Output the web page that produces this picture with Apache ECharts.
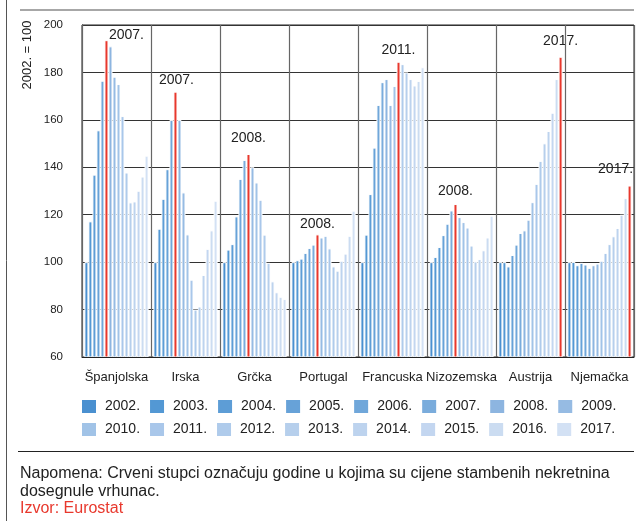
<!DOCTYPE html>
<html>
<head>
<meta charset="utf-8">
<script src="https://cdn.jsdelivr.net/npm/echarts@6/dist/echarts.min.js"></script>
<style>
  html, body { margin: 0; padding: 0; background: #fff; }
  #chart { width: 640px; height: 521px; }
</style>
</head>
<body>
<div id="chart"></div>
<script>
// kategorije i godine
const countries = ["Španjolska", "Irska", "Grčka", "Portugal", "Francuska", "Nizozemska", "Austrija", "Njemačka"];
const years = ["2002.", "2003.", "2004.", "2005.", "2006.", "2007.", "2008.", "2009.",
  "2010.", "2011.", "2012.", "2013.", "2014.", "2015.", "2016.", "2017."];

// indeks cijena stambenih nekretnina, 2002. = 100
const spain = [100, 117.2, 136.9, 155.6, 176.5, 193.6, 191, 178.2, 175.1, 161.6, 137.8, 125.2, 125.6, 130.1, 136.1, 144.9];
const ireland = [100, 114.1, 126.7, 139.2, 160, 171.9, 160, 129.4, 111.7, 92.6, 80, 81.3, 94.6, 105.6, 113.4, 125.9];
const greece = [100, 105.3, 107.6, 119.3, 135.1, 143.1, 145.6, 140, 133.6, 126.3, 111.6, 99.7, 91.9, 87.3, 85.4, 84.5];
const portugal = [100, 100.8, 101.5, 103.9, 106, 107.4, 111.7, 110.4, 111.1, 105.8, 98.2, 96.4, 100.6, 103.6, 111.1, 121.7];
const france = [100, 111.6, 128.7, 148.3, 166.3, 175.9, 177.2, 166.3, 174.3, 184.5, 183.5, 180, 177.2, 174.5, 176.4, 182.2];
const netherlands = [100, 102.2, 106.4, 111.4, 116.2, 121.8, 124.5, 119, 116.9, 114.6, 107, 100.3, 101.3, 105, 110.4, 119.6];
const austria = [100, 100, 98.2, 103, 107.4, 112.3, 113.4, 117.9, 125.3, 133, 142.7, 150.1, 155.3, 163, 177.2, 186.6];
const germany = [100, 100.1, 98.7, 99.7, 99, 97.6, 98.7, 99.4, 100.6, 103.9, 107.6, 110.9, 114.4, 120, 127, 132.3];

// godina vrhunca po zemlji
const peakYears = ["2007.", "2007.", "2008.", "2008.", "2011.", "2008.", "2017.", "2017."];

const values = [spain, ireland, greece, portugal, france, netherlands, austria, germany];

const colors = ["#4a90d0", "#5398d4", "#5d9dd6", "#67a2d8", "#70a7da", "#7aacdc", "#8db5e0", "#96bbe3",
  "#a1c3e7", "#a9c7ea", "#afcbeb", "#b6cfec", "#bdd3ee", "#c3d6f0", "#cbdcf1", "#d3e1f4"];
const peakColor = "#e8382d";
// pomak oznake iznad crvenog stupca
const labelOffsets = [[20, 7], [1, 1], [0, -4], [0, 2], [0, 0], [0, -1], [0, -4], [-14, -4]];

const FONT = '"Liberation Sans", Arial, sans-serif';

const chart = echarts.init(document.getElementById("chart"));

const series = years.map((year, j) => ({
  name: year,
  type: "bar",
  barGap: "0%",
  barCategoryGap: "7%",
  itemStyle: { color: colors[j], borderColor: "#fff", borderWidth: 1 },
  data: values.map((vals, i) => {
    const item = { value: vals[j] };
    if (peakYears[i] === year) {
      item.itemStyle = { color: peakColor };
      item.label = {
        show: true,
        position: "top",
        distance: 5,
        offset: labelOffsets[i],
        formatter: year,
        fontSize: 14,
        fontFamily: FONT,
        color: "#222",
      };
    }
    return item;
  }),
}));

const legendBase = {
  left: 80,
  width: 600,
  padding: 0,
  orient: "horizontal",
  icon: "rect",
  itemWidth: 16,
  itemHeight: 15,
  itemGap: 8,
  selectedMode: false,
  textStyle: { fontSize: 14, fontFamily: FONT, color: "#222", width: 42, padding: [0, 0, 0, 3] },
};

const option = {
  animation: false,
  grid: {
    left: 82,
    right: 6,
    top: 25,
    bottom: 164,
    show: true,
    borderColor: "#222",
    borderWidth: 1,
  },
  legend: [
    Object.assign({}, legendBase, { top: 398, data: years.slice(0, 8) }),
    Object.assign({}, legendBase, { top: 421, data: years.slice(8) }),
  ],
  xAxis: {
    type: "category",
    data: countries,
    z: 10,
    axisLine: { lineStyle: { color: "#222", width: 1 } },
    axisTick: { show: false },
    splitLine: { show: true, interval: 0, lineStyle: { color: "#666", width: 1.2 } },
    axisLabel: { interval: 0, margin: 14, fontSize: 13, fontFamily: FONT, color: "#222" },
  },
  yAxis: {
    type: "value",
    min: 60,
    max: 200,
    interval: 20,
    axisLine: { show: true, lineStyle: { color: "#222" } },
    axisTick: { show: false },
    splitLine: { lineStyle: { color: "#333", width: 1 } },
    axisLabel: { margin: 19, fontSize: 11.5, fontFamily: FONT, color: "#222" },
  },
  graphic: [
    { type: "line", shape: { x1: 20, y1: 10, x2: 634, y2: 10 }, style: { stroke: "#8a8a8a", lineWidth: 1.5 } },
    { type: "line", shape: { x1: 6.5, y1: 0, x2: 6.5, y2: 521 }, style: { stroke: "#555", lineWidth: 1 } },
    { type: "line", shape: { x1: 18, y1: 451.5, x2: 634, y2: 451.5 }, style: { stroke: "#222", lineWidth: 1 } },
    {
      type: "text", x: 27, y: 55, rotation: Math.PI / 2,
      style: { text: "2002. = 100", fontSize: 13, fontFamily: FONT, fill: "#222", align: "center", verticalAlign: "middle" },
    },
    {
      type: "text", left: 20, top: 466,
      style: { text: "Napomena: Crveni stupci označuju godine u kojima su cijene stambenih nekretnina", fontSize: 16, fontFamily: FONT, fill: "#222" },
    },
    {
      type: "text", left: 20, top: 484,
      style: { text: "dosegnule vrhunac.", fontSize: 16, fontFamily: FONT, fill: "#222" },
    },
    {
      type: "text", left: 20, top: 501,
      style: { text: "Izvor: Eurostat", fontSize: 16, fontFamily: FONT, fill: peakColor },
    },
  ],
  series: series,
};

chart.setOption(option);
</script>
</body>
</html>
